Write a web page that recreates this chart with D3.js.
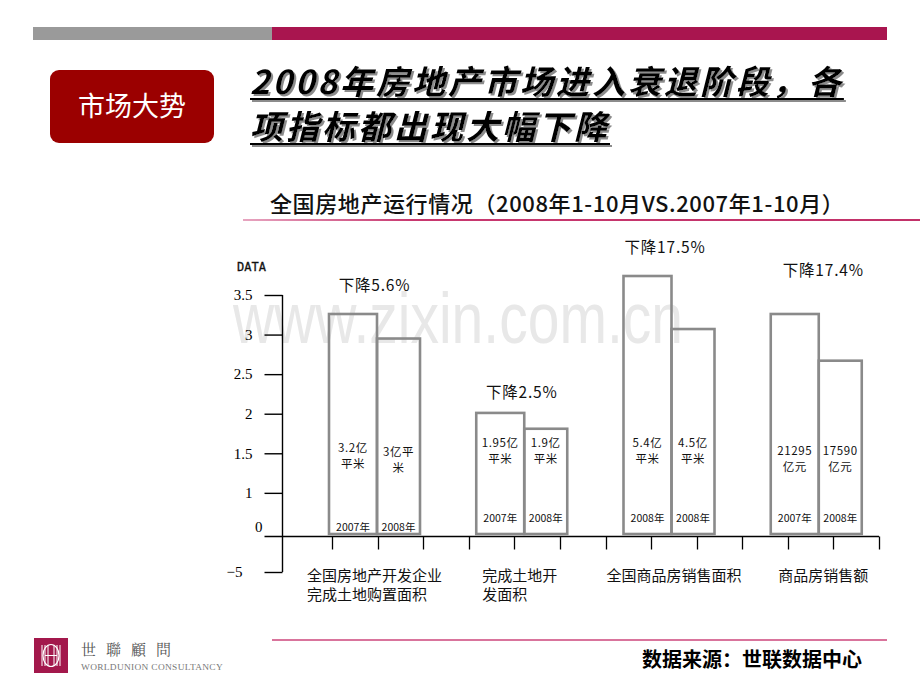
<!DOCTYPE html>
<html><head><meta charset="utf-8">
<script src="https://cdn.jsdelivr.net/npm/d3@7/dist/d3.min.js"></script>
<style>
html,body{margin:0;padding:0;background:#fff;}
svg{display:block;}
</style></head>
<body>
<script>
// ---------- data ----------
const categories = ["全国房地产开发企业\n完成土地购置面积", "完成土地开\n发面积", "全国商品房销售面积", "商品房销售额"];
const drawn2007 = [3.26, 2.01, 3.74, 3.26];   // bar heights as drawn on the DATA axis
const drawn2008 = [2.95, 1.81, 3.07, 2.67];
const valueLabels2007 = ["3.2亿\n平米", "1.95亿\n平米", "5.4亿\n平米", "21295\n亿元"];
const valueLabels2008 = ["3亿平\n米", "1.9亿\n平米", "4.5亿\n平米", "17590\n亿元"];
const yearLabels2007 = ["2007年", "2007年", "2008年", "2007年"];
const yearLabels2008 = ["2008年", "2008年", "2008年", "2008年"];
const dropLabels = ["下降5.6%", "下降2.5%", "下降17.5%", "下降17.4%"];
const yTickValues = [0, 0.45, 1, 1.5, 2, 2.5, 3, 3.5];
const yTickLabels = ["−5", "0", "1", "1.5", "2", "2.5", "3", "3.5"];
const baseValue = 0.45;
const xTickCount = 13;

const W = 920, H = 690;
const CJK = "'Noto Sans CJK SC','Noto Sans',sans-serif";
const svg = d3.select("body").append("svg").attr("width", W).attr("height", H);
const defs = svg.append("defs");
const shadow = defs.append("filter").attr("id", "sh").attr("x", "-5%").attr("y", "-20%").attr("width", "115%").attr("height", "150%");
shadow.append("feDropShadow").attr("dx", 2).attr("dy", 2).attr("stdDeviation", 0.3)
  .attr("flood-color", "#8c8c8c").attr("flood-opacity", 1);

// ---------- page decoration ----------
svg.append("rect").attr("x", 33).attr("y", 27).attr("width", 239).attr("height", 13).attr("fill", "#9a9a9a");
svg.append("rect").attr("x", 272).attr("y", 27).attr("width", 615).attr("height", 13).attr("fill", "#a9154f");

svg.append("rect").attr("x", 50).attr("y", 70).attr("width", 164).attr("height", 73).attr("rx", 9)
  .attr("fill", "#9b0000");
svg.append("text").attr("x", 132).attr("y", 116).attr("text-anchor", "middle")
  .attr("font-family", CJK).attr("font-size", 27).attr("fill", "#fff").text("市场大势");

const titleLines = [["2008年房地产市场进入衰退阶段，各", 94], ["项指标都出现大幅下降", 139]];
const tg = svg.append("g").attr("filter", "url(#sh)");
titleLines.forEach(([t, by]) => {
  const tx = tg.append("text").attr("x", 250).attr("y", by)
    .attr("font-family", CJK).attr("font-size", 33).attr("font-weight", 700)
    .attr("font-style", "italic").attr("letter-spacing", 3).attr("fill", "#000").text(t);
  const w = tx.node().getComputedTextLength();
  tg.append("rect").attr("x", 250).attr("y", by + 4).attr("width", w).attr("height", 2).attr("fill", "#000");
});

svg.append("text").attr("x", 270).attr("y", 212)
  .attr("font-family", CJK).attr("font-size", 22).attr("font-weight", 500).attr("fill", "#111")
  .attr("letter-spacing", 0.6)
  .text("全国房地产运行情况（2008年1-10月VS.2007年1-10月）");
const grad = defs.append("linearGradient").attr("id", "pk").attr("x1", "0").attr("x2", "1");
grad.append("stop").attr("offset", "0").attr("stop-color", "#e7a5c0");
grad.append("stop").attr("offset", "0.25").attr("stop-color", "#c8386f");
grad.append("stop").attr("offset", "1").attr("stop-color", "#c23169");
svg.append("rect").attr("x", 243).attr("y", 219).attr("width", 677).attr("height", 2).attr("fill", "url(#pk)");

// watermark
svg.append("text").attr("x", 233).attr("y", 343).attr("font-family", "'Liberation Sans',Arial,sans-serif")
  .attr("font-size", 72).attr("fill", "#e8e8e8").attr("textLength", 450).attr("lengthAdjust", "spacingAndGlyphs")
  .text("www.zixin.com.cn");

// ---------- chart ----------
const y = d3.scaleLinear().domain([0, 3.5]).range([572, 295]);
const x = d3.scaleBand().domain(categories).range([329, 918]).padding(0);
const xt = d3.scaleLinear().domain([0, xTickCount - 1]).range([332, 879]);
const axisX = 282.5;
const baseY = Math.round(y(baseValue)) + 0.5;

// y axis
const yAxis = d3.axisLeft(y).tickValues(yTickValues).tickSize(18).tickPadding(12)
  .tickFormat((d, i) => yTickLabels[i]);
const gy = svg.append("g").attr("transform", `translate(${axisX},0)`).call(yAxis);
gy.select(".domain").attr("stroke", "#000").attr("stroke-width", 1.4).attr("d", `M0,${y(3.5)}V${y(0)}`);
gy.selectAll(".tick line").attr("stroke", "#000").attr("stroke-width", 1.4);
gy.selectAll(".tick text").attr("font-family", "'Liberation Serif','Times New Roman',serif")
  .attr("font-size", 15).attr("fill", "#000");
gy.selectAll(".tick").filter(d => d === baseValue).each(function () {
  const g = d3.select(this);
  g.select("line").remove();
  g.select("text").attr("x", -20).attr("dy", "-0.3em");
});
gy.selectAll(".tick").filter(d => d === 0).select("text").attr("x", -40);

svg.append("text").attr("x", 237).attr("y", 271).attr("font-family", "'DejaVu Sans Mono',monospace")
  .attr("font-size", 12).attr("font-weight", 400).attr("fill", "#111").attr("stroke", "#111").attr("stroke-width", 0.3)
  .text("DATA");

// x axis line and ticks
svg.append("line").attr("x1", axisX - 18).attr("x2", xt.range()[1]).attr("y1", baseY).attr("y2", baseY)
  .attr("stroke", "#000").attr("stroke-width", 1.4);
svg.append("g").selectAll("line").data(d3.range(xTickCount)).join("line")
  .attr("x1", d => Math.round(xt(d)) + 0.5).attr("x2", d => Math.round(xt(d)) + 0.5)
  .attr("y1", baseY).attr("y2", baseY + 13).attr("stroke", "#000").attr("stroke-width", 1.3);

// bars
const w07 = 48, w08 = 43;
const bars = [];
categories.forEach((c, i) => {
  bars.push({ x: x(c), w: w07, v: drawn2007[i], lab: valueLabels2007[i], yr: yearLabels2007[i], g: i, s: 0 });
  bars.push({ x: x(c) + w07, w: w08, v: drawn2008[i], lab: valueLabels2008[i], yr: yearLabels2008[i], g: i, s: 1 });
});
svg.append("g").selectAll("rect").data(bars).join("rect")
  .attr("x", d => d.x).attr("y", d => y(d.v)).attr("width", d => d.w)
  .attr("height", d => baseY - 2.5 - y(d.v))
  .attr("fill", "none").attr("stroke", "#8a8a8a").attr("stroke-width", 2.6);

// value labels
const valueLabelY = [[448, 452], [443, 443], [443, 443], [451, 451]];
bars.forEach(d => {
  const t = svg.append("text").attr("text-anchor", "middle").attr("font-family", CJK)
    .attr("font-size", 11.5).attr("fill", "#111").attr("letter-spacing", 0.6);
  d.lab.split("\n").forEach((ln, k) => {
    t.append("tspan").attr("x", d.x + d.w / 2).attr("y", valueLabelY[d.g][d.s] + 4 + k * 15.5).text(ln);
  });
});
// year labels
const yearLabelY = [527, 518, 518, 518];
svg.append("g").selectAll("text").data(bars).join("text")
  .attr("x", d => d.x + d.w / 2).attr("y", d => yearLabelY[d.g] + 4)
  .attr("text-anchor", "middle").attr("font-family", CJK).attr("font-size", 10.5).attr("fill", "#111")
  .text(d => d.yr);

// drop labels
const dropGap = [29, 21, 29, 44];
const dropShift = [0, 0, -4, 7];
categories.forEach((c, i) => {
  const cx = x(c) + (w07 + w08) / 2 + dropShift[i];
  svg.append("text").attr("x", cx).attr("y", y(drawn2007[i]) - dropGap[i] + 6)
    .attr("text-anchor", "middle").attr("font-family", CJK).attr("font-size", 15.5)
    .attr("letter-spacing", 0.8).attr("fill", "#111").text(dropLabels[i]);
});

// category labels
const catShift = [0, -2, 5, 7];
categories.forEach((c, i) => {
  const cx = x(c) + (w07 + w08) / 2 + catShift[i];
  const lines = c.split("\n");
  const t = svg.append("text").attr("font-family", CJK).attr("font-size", 15).attr("fill", "#111");
  lines.forEach((ln, k) => t.append("tspan").attr("x", 0).attr("y", 581 + k * 19).text(ln));
  const bw = t.node().getBBox().width;
  t.selectAll("tspan").attr("x", cx - bw / 2);
});

// ---------- footer ----------
svg.append("rect").attr("x", 272).attr("y", 639).attr("width", 615).attr("height", 2).attr("fill", "#d9749c");
svg.append("text").attr("x", 862).attr("y", 667).attr("text-anchor", "end")
  .attr("font-family", CJK).attr("font-size", 20).attr("font-weight", 700).attr("fill", "#000")
  .text("数据来源：世联数据中心");

// logo
const lg = svg.append("g");
lg.append("rect").attr("x", 34).attr("y", 638).attr("width", 34).attr("height", 35).attr("fill", "#a3184c");
lg.append("ellipse").attr("cx", 51).attr("cy", 655.5).attr("rx", 8).attr("ry", 11)
  .attr("fill", "none").attr("stroke", "#fff").attr("stroke-width", 1.2);
[42, 45, 48, 54, 57, 60].forEach(px => lg.append("line").attr("x1", px).attr("x2", px).attr("y1", 645).attr("y2", 666)
  .attr("stroke", "#fff").attr("stroke-width", 1));
lg.append("line").attr("x1", 45).attr("x2", 57).attr("y1", 655.5).attr("y2", 655.5).attr("stroke", "#fff").attr("stroke-width", 1);
lg.append("text").attr("x", 81).attr("y", 655).attr("font-family", "'Noto Serif CJK SC','Noto Sans CJK TC',serif")
  .attr("font-size", 15).attr("letter-spacing", 10).attr("fill", "#555").text("世聯顧問");
lg.append("text").attr("x", 81).attr("y", 670).attr("font-family", "'Liberation Serif',serif")
  .attr("font-size", 9).attr("fill", "#777").attr("letter-spacing", 0.3)
  .text("WORLDUNION CONSULTANCY").attr("textLength", 142).attr("lengthAdjust", "spacingAndGlyphs");
</script>
</body></html>
